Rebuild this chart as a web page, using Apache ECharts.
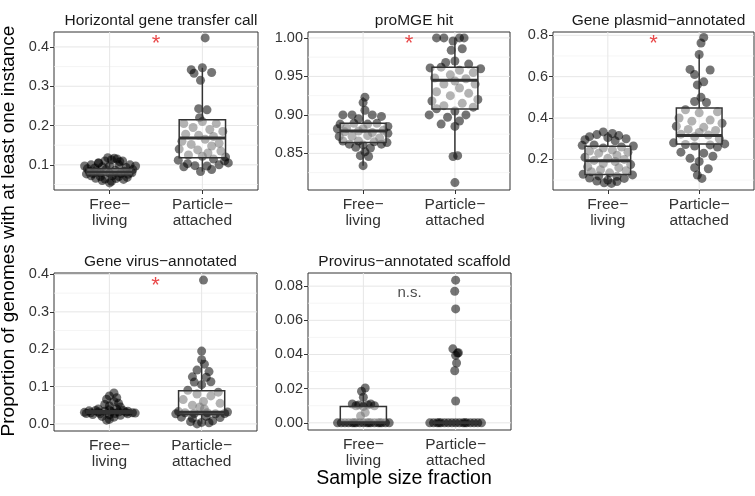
<!DOCTYPE html>
<html>
<head>
<meta charset="utf-8">
<script src="https://cdn.jsdelivr.net/npm/echarts@6/dist/echarts.min.js"></script>
<style>
html, body { margin: 0; padding: 0; background: #fff; }
#main { width: 755px; height: 496px; }
</style>
</head>
<body>
<div id="main"></div>
<script>
// facet titles, categories
var panelTitles = ['Horizontal gene transfer call', 'proMGE hit', 'Gene plasmid\u2212annotated',
    'Gene virus\u2212annotated', 'Provirus\u2212annotated scaffold'];
var groupNames = ['Free\u2212\nliving', 'Particle\u2212\nattached'];

// jittered points: [horizontal jitter, value]
var hgtFree = [[-0.27,0.097],[-0.2,0.1],[-0.12,0.105],[-0.05,0.11],[0.02,0.113],[0.08,0.115],[0.14,0.11],[0.22,0.1],[0.28,0.097],
    [-0.24,0.09],[-0.16,0.092],[-0.08,0.095],[0.0,0.098],[0.1,0.1],[0.18,0.093],[0.25,0.088],
    [-0.22,0.083],[-0.14,0.085],[-0.04,0.088],[0.06,0.086],[0.16,0.084],[0.24,0.08],
    [-0.25,0.077],[-0.18,0.078],[-0.1,0.08],[0.0,0.079],[0.12,0.078],[0.2,0.076],
    [-0.2,0.072],[-0.1,0.07],[0.03,0.072],[0.1,0.07],[0.19,0.068],
    [-0.15,0.066],[-0.05,0.064],[0.07,0.065],[0.15,0.063],
    [-0.08,0.06],[0.02,0.058],[0.0,0.054],[-0.12,0.105],[0.05,0.117],[-0.02,0.118],[0.11,0.108]];
var hgtPart = [[0.03,0.423],[-0.12,0.342],[0.0,0.347],[0.1,0.335],[-0.09,0.333],[-0.02,0.315],[-0.04,0.243],[0.05,0.24],[-0.03,0.22],
    [-0.2,0.205],[0.0,0.21],[0.15,0.205],[-0.1,0.195],[0.08,0.19],[0.22,0.185],[-0.18,0.178],[-0.04,0.175],[0.12,0.172],
    [-0.22,0.16],[0.03,0.165],[0.18,0.155],[-0.12,0.152],[0.1,0.148],[-0.25,0.14],[-0.05,0.138],[0.2,0.135],[0.06,0.13],
    [-0.15,0.125],[0.25,0.12],[0.0,0.122],[-0.26,0.112],[0.12,0.115],[-0.16,0.103],[0.28,0.105],[-0.08,0.098],[0.05,0.097],
    [0.18,0.1],[-0.02,0.083],[0.1,0.088],[0.24,0.11],[-0.2,0.095]];
var mgeFree = [[0.02,0.923],[0.0,0.916],[-0.22,0.9],[-0.12,0.9],[0.1,0.9],[0.2,0.898],[0.02,0.906],[-0.05,0.895],
    [-0.25,0.888],[-0.1,0.889],[0.05,0.888],[0.15,0.889],[0.27,0.885],[-0.28,0.882],[-0.18,0.883],[0.0,0.882],[0.22,0.88],
    [-0.2,0.878],[-0.05,0.879],[0.1,0.877],[0.27,0.876],[-0.26,0.872],[-0.12,0.872],[0.05,0.873],[0.18,0.87],
    [-0.22,0.866],[-0.05,0.866],[0.12,0.865],[0.26,0.864],[-0.15,0.862],[0.0,0.861],[0.2,0.862],[-0.08,0.858],[0.08,0.857],
    [0.02,0.852],[-0.03,0.847],[0.06,0.846],[0.0,0.834]];
var mgePart = [[-0.2,1.0],[-0.12,1.0],[0.05,1.0],[0.1,1.0],[-0.02,0.996],[0.08,0.986],[-0.04,0.984],[0.0,0.97],[-0.1,0.968],[0.15,0.966],
    [-0.27,0.961],[0.28,0.96],[-0.15,0.962],[0.05,0.958],[0.2,0.955],[-0.05,0.952],[-0.22,0.948],[0.12,0.947],[0.0,0.944],
    [-0.12,0.94],[0.22,0.94],[0.05,0.935],[-0.2,0.93],[0.15,0.928],[-0.05,0.925],[0.25,0.92],[-0.25,0.918],[0.08,0.915],
    [-0.12,0.912],[0.2,0.91],[-0.2,0.908],[0.0,0.905],[-0.28,0.9],[0.12,0.9],[-0.08,0.897],[0.05,0.892],[-0.15,0.888],[0.0,0.885],
    [-0.02,0.846],[0.03,0.847],[0.0,0.812]];
var plasFree = [[-0.05,0.333],[0.05,0.325],[-0.12,0.32],[0.12,0.315],[-0.2,0.31],[0.0,0.305],[0.2,0.3],[-0.25,0.295],[0.08,0.29],
    [-0.28,0.268],[0.28,0.265],[-0.15,0.27],[0.15,0.26],[-0.05,0.255],[0.05,0.245],[-0.2,0.24],[0.22,0.235],[-0.1,0.23],
    [0.1,0.22],[-0.25,0.21],[0.0,0.205],[0.18,0.2],[-0.15,0.195],[0.08,0.19],[-0.05,0.18],[0.25,0.175],[-0.22,0.165],
    [0.12,0.16],[-0.08,0.15],[0.2,0.145],[-0.18,0.14],[0.02,0.135],[-0.27,0.128],[0.27,0.125],[-0.1,0.12],[0.1,0.118],
    [-0.2,0.11],[0.18,0.108],[0.0,0.1],[-0.12,0.095],[0.1,0.093],[-0.04,0.087],[0.04,0.084]];
var plasPart = [[0.05,0.79],[0.02,0.763],[0.0,0.707],[-0.1,0.635],[0.12,0.632],[-0.05,0.61],[0.05,0.575],[-0.02,0.56],[0.02,0.5],
    [-0.05,0.48],[0.08,0.475],[-0.15,0.44],[0.2,0.43],[0.0,0.425],[-0.22,0.4],[0.12,0.39],[-0.08,0.385],[0.25,0.375],
    [-0.25,0.36],[0.05,0.355],[-0.12,0.345],[0.18,0.34],[0.0,0.33],[-0.2,0.322],[0.1,0.318],[-0.05,0.31],[0.22,0.3],
    [-0.28,0.28],[0.28,0.275],[-0.15,0.272],[0.12,0.27],[-0.05,0.265],[0.2,0.26],[-0.2,0.235],[0.05,0.23],[0.15,0.215],
    [-0.1,0.205],[0.0,0.19],[-0.05,0.16],[0.1,0.155],[-0.02,0.124],[0.03,0.108]];
var virFree = [[0.05,0.083],[0.0,0.075],[0.08,0.07],[-0.03,0.066],[0.05,0.06],[0.1,0.055],[-0.05,0.052],[0.0,0.048],[0.12,0.045],
    [-0.27,0.031],[-0.2,0.03],[-0.12,0.032],[-0.05,0.034],[0.02,0.033],[0.1,0.032],[0.18,0.031],[0.25,0.03],[0.28,0.029],
    [-0.22,0.035],[-0.15,0.036],[0.0,0.038],[0.15,0.036],[-0.25,0.028],[-0.1,0.027],[0.06,0.028],[0.2,0.027],
    [-0.18,0.025],[0.0,0.024],[0.12,0.023],[-0.08,0.02],[0.05,0.018],[0.0,0.012],[-0.03,0.01],[0.08,0.04],[-0.12,0.04],[0.2,0.034]];
var virPart = [[0.02,0.385],[0.0,0.195],[0.0,0.172],[0.03,0.16],[-0.05,0.144],[0.08,0.14],[-0.1,0.126],[0.05,0.125],[0.1,0.113],[-0.08,0.112],
    [0.0,0.105],[-0.15,0.09],[0.18,0.085],[-0.05,0.08],[0.1,0.075],[-0.2,0.065],[0.02,0.06],[0.2,0.055],[-0.1,0.05],
    [-0.25,0.033],[-0.18,0.03],[-0.08,0.028],[0.06,0.03],[0.15,0.027],[0.25,0.028],[0.28,0.032],[-0.28,0.027],
    [-0.22,0.018],[-0.1,0.015],[0.05,0.02],[0.2,0.017],[-0.12,0.006],[0.0,0.004],[0.08,0.003],[-0.05,0.0],[0.12,0.008],[0.03,0.04],[-0.02,0.045]];
var provFree = [[-0.28,0],[-0.24,0],[-0.2,0],[-0.16,0],[-0.12,0],[-0.08,0],[-0.04,0],[0.0,0],[0.04,0],[0.08,0],[0.12,0],[0.16,0],[0.2,0],[0.24,0],[0.28,0],
    [-0.1,0],[0.06,0],[0.18,0],
    [0.02,0.0204],[-0.02,0.0185],[0.0,0.015],[-0.12,0.011],[-0.05,0.0105],[0.05,0.0105],[0.12,0.01],[-0.08,0.01],[0.08,0.011],[0.0,0.0095],
    [0.02,0.006],[-0.03,0.004]];
var provPart = [[0.0,0.0835],[-0.01,0.077],[0.0,0.0667],[-0.03,0.0433],[0.03,0.041],[0.02,0.0408],[0.0,0.0395],[0.01,0.035],[-0.01,0.0305],[0.0,0.0128],
    [-0.28,0],[-0.24,0],[-0.2,0],[-0.16,0],[-0.12,0],[-0.08,0],[-0.04,0],[0,0],[0.04,0],[0.08,0],[0.12,0],[0.16,0],[0.2,0],[0.24,0],[0.28,0],[-0.18,0],[0.1,0]];

// box stats: [lower whisker, Q1, median, Q3, upper whisker]
var hgtBoxFree = [0.054, 0.074, 0.082, 0.09, 0.118];
var hgtBoxPart = [0.083, 0.118, 0.168, 0.215, 0.347];
var mgeBoxFree = [0.834, 0.864, 0.879, 0.889, 0.923];
var mgeBoxPart = [0.846, 0.9075, 0.945, 0.962, 1.0];
var plasBoxFree = [0.084, 0.127, 0.193, 0.264, 0.333];
var plasBoxPart = [0.108, 0.274, 0.316, 0.449, 0.707];
var virBoxFree = [0.018, 0.028, 0.031, 0.035, 0.045];
var virBoxPart = [0.0, 0.025, 0.031, 0.089, 0.172];
var provBoxFree = [0.0, 0.0, 0.0, 0.0095, 0.0204];
var provBoxPart = [0.0, 0.0, 0.0, 0.0, 0.0];

// y tick labels
var hgtTicks = [0.1, 0.2, 0.3, 0.4];
var mgeTicks = [0.85, 0.90, 0.95, 1.00];
var plasTicks = [0.2, 0.4, 0.6, 0.8];
var virTicks = [0.0, 0.1, 0.2, 0.3, 0.4];
var provTicks = [0.00, 0.02, 0.04, 0.06, 0.08];
var tickDigits = [1, 2, 1, 1, 2];

// significance labels
var sigText = ['*', '*', '*', '*', 'n.s.'];
var sigY = [0.417, 0.997, 0.776, 0.38, 0.0762];

var yRanges = [[0.036, 0.438], [0.8024, 1.0077], [0.052, 0.816], [-0.019, 0.404], [-0.0042, 0.0877]];
var grids = [
    {left: 54, top: 32, width: 204, height: 158},
    {left: 308, top: 32, width: 202, height: 158},
    {left: 553, top: 32, width: 201, height: 158},
    {left: 54, top: 273, width: 203, height: 158},
    {left: 308, top: 273, width: 203, height: 157}
];

var pointsFree = [hgtFree, mgeFree, plasFree, virFree, provFree];
var pointsPart = [hgtPart, mgePart, plasPart, virPart, provPart];
var boxesFree = [hgtBoxFree, mgeBoxFree, plasBoxFree, virBoxFree, provBoxFree];
var boxesPart = [hgtBoxPart, mgeBoxPart, plasBoxPart, virBoxPart, provBoxPart];
var ticks = [hgtTicks, mgeTicks, plasTicks, virTicks, provTicks];

var fontFam = 'Liberation Sans, Arial, sans-serif';
var boxHalf = 0.25;

var myChart = echarts.init(document.getElementById('main'));

var titles = [], xAxes = [], yAxes = [], series = [];

for (var i = 0; i < 5; i++) {
    var g = grids[i];
    g.show = true;
    g.borderColor = '#333';
    g.borderWidth = 1;
    g.backgroundColor = '#fff';
    g.containLabel = false;

    titles.push({
        text: panelTitles[i],
        left: g.left + g.width / 2,
        top: g.top - 24,
        textAlign: 'center',
        textStyle: {fontFamily: fontFam, fontSize: 15.5, fontWeight: 'normal', color: '#1a1a1a'}
    });

    xAxes.push({
        type: 'value', gridIndex: i, min: 0.4, max: 2.6,
        axisLine: {show: false},
        splitLine: {show: false},
        axisTick: {show: true, length: 4, customValues: [1, 2], lineStyle: {color: '#333'}},
        axisLabel: {
            customValues: [1, 2], margin: 7,
            fontFamily: fontFam, fontSize: 15.5, lineHeight: 16, color: '#333',
            formatter: function (v) { return groupNames[Math.round(v) - 1]; }
        }
    });

    (function (digits) {
        yAxes.push({
            type: 'value', gridIndex: i, min: yRanges[i][0], max: yRanges[i][1],
            axisLine: {show: false},
            splitLine: {show: false},
            axisTick: {show: true, length: 4, customValues: ticks[i], lineStyle: {color: '#333'}},
            axisLabel: {
                customValues: ticks[i], margin: 5,
                fontFamily: fontFam, fontSize: 14.5, color: '#333',
                formatter: function (v) { return v.toFixed(digits); }
            }
        });
    })(tickDigits[i]);

    // grid lines: major at ticks, minor halfway
    var t = ticks[i];
    var step = t[1] - t[0];
    var gridLines = [];
    for (var k = 0; k < t.length; k++) gridLines.push([t[k], 1]);
    if (t[0] - step / 2 >= yRanges[i][0]) gridLines.push([t[0] - step / 2, 0]);
    for (var k = 0; k < t.length - 1; k++) gridLines.push([(t[k] + t[k + 1]) / 2, 0]);
    if (t[t.length - 1] + step / 2 <= yRanges[i][1]) gridLines.push([t[t.length - 1] + step / 2, 0]);

    series.push({
        type: 'custom', xAxisIndex: i, yAxisIndex: i, silent: true, z: 1,
        data: gridLines,
        renderItem: function (params, api) {
            var cs = params.coordSys;
            var y = api.coord([1, api.value(0)])[1];
            var major = api.value(1) === 1;
            return {
                type: 'line',
                shape: {x1: cs.x, y1: y, x2: cs.x + cs.width, y2: y},
                style: {stroke: major ? '#e6e6e6' : '#f0f0f0', lineWidth: major ? 1 : 0.7}
            };
        }
    });
    series.push({
        type: 'custom', xAxisIndex: i, yAxisIndex: i, silent: true, z: 1,
        data: [[1], [2]],
        renderItem: function (params, api) {
            var cs = params.coordSys;
            var x = api.coord([api.value(0), 0])[0];
            return {
                type: 'line',
                shape: {x1: x, y1: cs.y, x2: x, y2: cs.y + cs.height},
                style: {stroke: '#e6e6e6', lineWidth: 1}
            };
        }
    });

    var pts = [];
    pointsFree[i].forEach(function (p) { pts.push([1 + p[0], p[1]]); });
    pointsPart[i].forEach(function (p) { pts.push([2 + p[0], p[1]]); });
    series.push({
        type: 'scatter', xAxisIndex: i, yAxisIndex: i, silent: true, z: 2,
        symbolSize: 9,
        itemStyle: {color: 'rgba(0,0,0,0.68)'},
        data: pts
    });

    series.push({
        type: 'custom', xAxisIndex: i, yAxisIndex: i, silent: true, z: 3,
        encode: {x: 0, y: [1, 2, 3, 4, 5]},
        data: [[1].concat(boxesFree[i]), [2].concat(boxesPart[i])],
        renderItem: function (params, api) {
            var x = api.value(0);
            var lo = api.coord([x, api.value(1)]);
            var q1 = api.coord([x, api.value(2)]);
            var med = api.coord([x, api.value(3)]);
            var q3 = api.coord([x, api.value(4)]);
            var hi = api.coord([x, api.value(5)]);
            var l = api.coord([x - boxHalf, 0])[0];
            var r = api.coord([x + boxHalf, 0])[0];
            var st = {stroke: '#333', lineWidth: 1.5};
            return {
                type: 'group',
                children: [
                    {type: 'line', shape: {x1: lo[0], y1: lo[1], x2: q1[0], y2: q1[1]}, style: st},
                    {type: 'line', shape: {x1: q3[0], y1: q3[1], x2: hi[0], y2: hi[1]}, style: st},
                    {type: 'rect', shape: {x: l, y: q3[1], width: r - l, height: q1[1] - q3[1]},
                        style: {fill: 'rgba(255,255,255,0.45)', stroke: '#333', lineWidth: 1.5}},
                    {type: 'line', shape: {x1: l, y1: med[1], x2: r, y2: med[1]}, style: {stroke: '#333', lineWidth: 3}}
                ]
            };
        }
    });

    var isStar = sigText[i] === '*';
    series.push({
        type: 'scatter', xAxisIndex: i, yAxisIndex: i, silent: true, z: 4,
        symbolSize: 1,
        itemStyle: {color: 'rgba(0,0,0,0)'},
        data: [[1.5, sigY[i]]],
        label: {
            show: true, position: 'inside',
            formatter: sigText[i],
            offset: isStar ? [0, 4] : [0, 0],
            fontFamily: fontFam,
            fontSize: isStar ? 22 : 15,
            color: isStar ? '#e41a1c' : '#1a1a1a'
        }
    });
}

option = {
    backgroundColor: '#fff',
    animation: false,
    title: titles,
    grid: grids,
    xAxis: xAxes,
    yAxis: yAxes,
    series: series,
    graphic: [
        {
            type: 'text', x: 9, y: 231, rotation: Math.PI / 2,
            style: {
                text: 'Proportion of genomes with at least one instance',
                fontFamily: fontFam, fontSize: 19, fill: '#000',
                align: 'center', verticalAlign: 'middle'
            }
        },
        {
            type: 'text', x: 404, y: 479,
            style: {
                text: 'Sample size fraction',
                fontFamily: fontFam, fontSize: 19.5, fill: '#000',
                align: 'center', verticalAlign: 'middle'
            }
        }
    ]
};

myChart.setOption(option);
</script>
</body>
</html>
